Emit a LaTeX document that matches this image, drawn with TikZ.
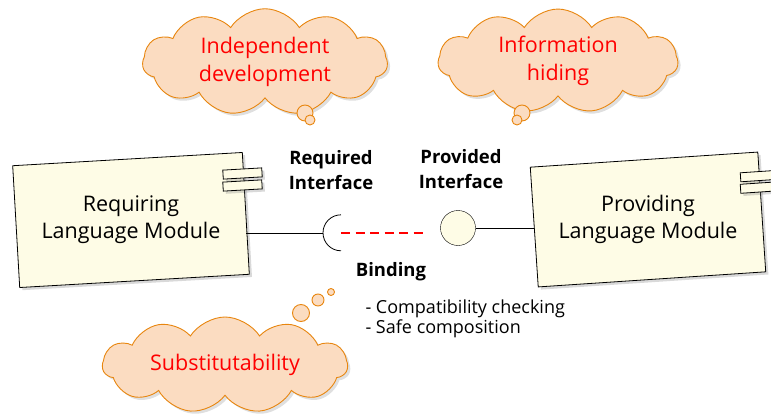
\documentclass[tikz,border=0pt]{standalone}
\usepackage{fontspec}
\setmainfont{Open Sans}
\usetikzlibrary{shapes.symbols,shadows}
\definecolor{modfill}{HTML}{FEFCE6}
\definecolor{cloudfill}{HTML}{FBDCC1}
\definecolor{clouddraw}{HTML}{E8860F}

\begin{document}
\begin{tikzpicture}[x=1pt,y=1pt,
  comp/.style={draw,fill=modfill,line width=0.8pt,drop shadow={opacity=0.3},
    minimum width=230,minimum height=122},
  tab/.style={draw,fill=modfill,line width=0.8pt,drop shadow={opacity=0.3},
    minimum width=39,minimum height=9,inner sep=0pt},
  modtext/.style={align=center,font=\fontsize{21.5}{27}\selectfont},
  thought/.style={cloud,cloud puffs=11,cloud puff arc=115,cloud ignores aspect,
    draw=clouddraw,fill=cloudfill,line width=0.9pt,drop shadow={opacity=0.25},
    text=red,align=center,font=\fontsize{21.5}{28}\selectfont},
  bubble/.style={circle,draw=clouddraw,fill=cloudfill,line width=0.9pt,inner sep=0pt},
  lbl/.style={align=center,font=\fontsize{18.5}{25}\selectfont\bfseries}]
\useasboundingbox (0,0) rectangle (771,416);

% modules
\node[comp,rotate=3.3] (lbox) at (131,196) {};
\node[tab,rotate=3.3] (ltab1) at (242.5,242.5) {};
\node[tab,rotate=3.3] (ltab2) at (242.5,230.5) {};
\node[modtext] (ltext) at (lbox) {Requiring\\Language Module};
\node[comp,rotate=3.8,minimum width=228,minimum height=120] (rbox) at (648,196.5) {};
\node[tab,rotate=3.8] (rtab1) at (760,240) {};
\node[tab,rotate=3.8] (rtab2) at (760,228.5) {};
\node[modtext] (rtext) at (rbox) {Providing\\Language Module};

% interfaces
\node[circle,minimum size=36,inner sep=0pt] (sock) at (341,183) {};
\node[circle,draw,fill=modfill,minimum size=35,inner sep=0pt] (prov) at (458,188) {};
\draw[line width=0.8pt] (sock.north) arc[start angle=90,end angle=270,radius=18];
\draw[line width=0.8pt] (sock.west) -- (sock.west -| lbox.east);
\draw[line width=0.8pt] (prov.east) -- (prov.east -| rbox.west);
\draw[red,line width=1.6pt,dash pattern=on 9pt off 5.5pt] (sock.center) -- ([xshift=-13]prov.west |- sock);

\node[lbl] (req) at (331,246) {Required\\Interface};
\node[lbl] (pro) at (461,247) {Provided\\Interface};
\node[lbl] (bind) at (391,144) {Binding};
\node[anchor=north west,align=left,font=\fontsize{18}{20}\selectfont] (checks) at (362,119.5)
  {- Compatibility checking\\- Safe composition};

% thoughts
\node[thought,minimum width=245,minimum height=98] (indep) at (265,354) {Independent\\development};
\node[bubble,minimum size=16] (ib1) at (305,303) {};
\node[bubble,minimum size=10] (ib2) at (310,296) {};
\node[thought,minimum width=240,minimum height=100] (info) at (558,355) {Information\\hiding};
\node[bubble,minimum size=16] (hb1) at (522,303) {};
\node[bubble,minimum size=10] (hb2) at (517,296) {};
\node[thought,minimum width=245,minimum height=96] (subst) at (225,51) {Substitutability};
\node[bubble,minimum size=17] (sb1) at (301,103) {};
\node[bubble,minimum size=12] (sb2) at (318,116) {};
\node[bubble,minimum size=7] (sb3) at (331,124) {};
\end{tikzpicture}
\end{document}
